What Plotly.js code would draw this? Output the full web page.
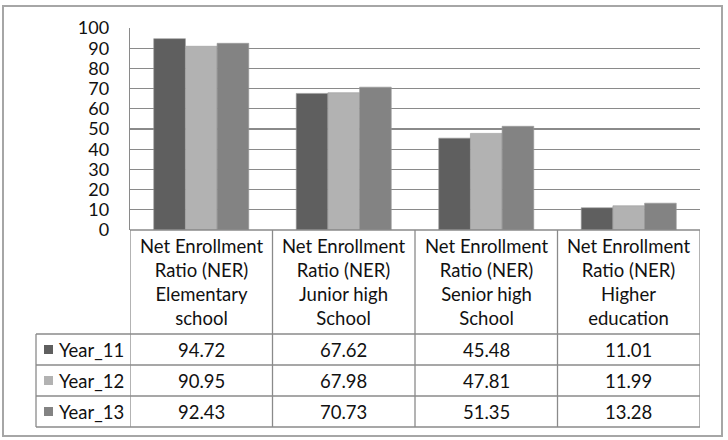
<!DOCTYPE html>
<html>
<head>
<meta charset="utf-8">
<script src="https://cdn.plot.ly/plotly-3.0.1.min.js"></script>
<style>html,body{margin:0;padding:0;background:#fff;}#chart{width:728px;height:440px;}</style>
</head>
<body>
<div id="chart"></div>
<script>
// ---- data ----
const categories = [
  "Net Enrollment<br>Ratio (NER)<br>Elementary<br>school",
  "Net Enrollment<br>Ratio (NER)<br>Junior high<br>School",
  "Net Enrollment<br>Ratio (NER)<br>Senior high<br>School",
  "Net Enrollment<br>Ratio (NER)<br>Higher<br>education"
];
const seriesNames = ["Year_11", "Year_12", "Year_13"];
const year11 = [94.72, 67.62, 45.48, 11.01];
const year12 = [90.95, 67.98, 47.81, 11.99];
const year13 = [92.43, 70.73, 51.35, 13.28];
const yTicks = [0, 10, 20, 30, 40, 50, 60, 70, 80, 90, 100];

// ---- styling ----
const colors = ["#5f5f5f", "#b2b2b2", "#838383"];
const W = 728, H = 440;
const L = 130, R = 700, T = 28, B = 230;
const px = x => (x - L) / (R - L);
const py = y => (B - y) / (B - T);
const FONT = "Lato, 'Open Sans', sans-serif";
const TFS = 18.5;
const lineCol = "#8a8a8a";

const allSeries = [year11, year12, year13];
const xIdx = categories.map((c, i) => i);

const traces = allSeries.map((vals, s) => ({
  type: "bar",
  name: seriesNames[s],
  x: xIdx,
  y: vals,
  marker: {color: colors[s], line: {color: "#9a9a9a", width: 0.6}},
  hoverinfo: "skip"
}));

const shapes = [];
const annotations = [];
const line = (x0, y0, x1, y1, col, w) => shapes.push({
  type: "line", xref: "paper", yref: "paper",
  x0: px(x0), y0: py(y0), x1: px(x1), y1: py(y1),
  line: {color: col || lineCol, width: w || 1.3}
});

// outer frame
shapes.push({type: "rect", xref: "paper", yref: "paper",
  x0: px(3), y0: py(6), x1: px(722), y1: py(436),
  line: {color: "#a6a6a6", width: 2}, layer: "below"});

// table lines
const rowY = [334, 365, 396, 427];
const rowCenters = [349.5, 380.5, 411.5];
line(L, B, R, B, lineCol, 1.5);
for (let i = 0; i <= categories.length; i++) {
  shapes.push({type: "line", xref: "x", yref: "paper",
    x0: i - 0.5, x1: i - 0.5, y0: py(B), y1: py(427),
    line: {color: lineCol, width: 1.3}});
}
rowY.forEach(y => line(36, y, R, y));
line(36, 334, 36, 427);

// header text
categories.forEach((c, i) => annotations.push({
  xref: "x", yref: "paper", x: i, y: py(281.5),
  text: c, showarrow: false, xanchor: "center", yanchor: "middle",
  font: {family: FONT, size: TFS, color: "#111"}
}));

// legend keys + values
seriesNames.forEach((n, s) => {
  const cy = rowCenters[s];
  shapes.push({type: "rect", xref: "paper", yref: "paper",
    x0: px(44), x1: px(53), y0: py(cy - 4.5), y1: py(cy + 4.5),
    fillcolor: colors[s], line: {width: 0}});
  annotations.push({xref: "paper", yref: "paper", x: px(57), y: py(cy),
    text: n, showarrow: false, xanchor: "left", yanchor: "middle",
    font: {family: FONT, size: TFS, color: "#111"}});
  allSeries[s].forEach((v, i) => annotations.push({
    xref: "x", yref: "paper", x: i, y: py(cy),
    text: v.toFixed(2), showarrow: false, xanchor: "center", yanchor: "middle",
    font: {family: FONT, size: TFS, color: "#111"}
  }));
});

const layout = {
  width: W, height: H,
  margin: {l: L, r: W - R, t: T, b: H - B, pad: 0},
  paper_bgcolor: "#fff", plot_bgcolor: "#fff",
  barmode: "group", bargap: 0.333, bargroupgap: 0,
  showlegend: false,
  font: {family: FONT, color: "#111"},
  xaxis: {range: [-0.5, 3.5], showticklabels: false, showgrid: false,
          zeroline: false, showline: false, ticks: "", fixedrange: true},
  yaxis: {range: [0, 100], tickvals: yTicks, ticktext: yTicks.map(String),
          showgrid: true, gridcolor: lineCol, gridwidth: 1.3,
          zeroline: false, showline: true, linecolor: lineCol, linewidth: 1.3,
          ticks: "outside", ticklen: 16, tickcolor: "rgba(0,0,0,0)",
          tickfont: {family: FONT, size: 18, color: "#111"}, fixedrange: true},
  shapes: shapes,
  annotations: annotations
};

Plotly.newPlot("chart", traces, layout, {displayModeBar: false, staticPlot: true});
</script>
</body>
</html>
